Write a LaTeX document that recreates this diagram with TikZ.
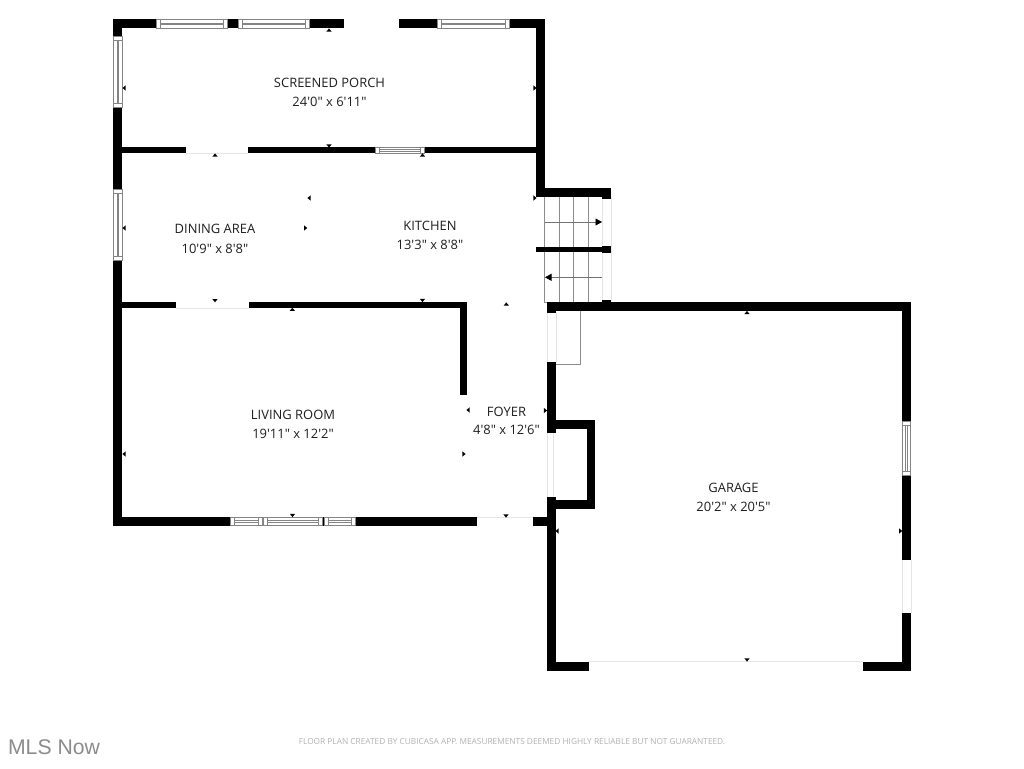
\documentclass[tikz,border=0pt]{standalone}
\usepackage{fontspec}
\newfontfamily\roomfont{Open Sans}
\newfontfamily\logofont{Liberation Sans}
\usetikzlibrary{arrows.meta}
\tikzset{
  wall/.style={fill=black,draw=none},
  faint/.style={draw=black!10,line width=0.7pt},
  wline/.style={draw=black!48,line width=0.75pt},
  stairline/.style={draw=black!45,line width=1pt},
  roomlabel/.style={font=\roomfont\fontsize{12.95}{15}\selectfont,text=black!88,inner sep=0pt,anchor=center},
  tick/.style={fill=black,draw=none},
  stairarrow/.style={draw=black!55,line width=0.7pt,-{Triangle[length=6.5pt,width=7pt,fill=black,color=black]}}
}
% horizontal window: x1 x2 y1 y2
\newcommand{\hwin}[4]{%
  \fill[white] (#1,#3) rectangle (#2,#4);
  \draw[wline] (#1,#3) rectangle (#2,#4);
  \draw[wline] ({#1+4},#3) -- ({#1+4},#4) ({#2-4},#3) -- ({#2-4},#4);
  \draw[wline] ({#1+4},{(#3+#4)/2-0.9}) -- ({#2-4},{(#3+#4)/2-0.9}) ({#1+4},{(#3+#4)/2+0.9}) -- ({#2-4},{(#3+#4)/2+0.9});
}
% vertical window: y1 y2 x1 x2
\newcommand{\vwin}[4]{%
  \fill[white] (#3,#1) rectangle (#4,#2);
  \draw[wline] (#3,#1) rectangle (#4,#2);
  \draw[wline] (#3,{#1+4}) -- (#4,{#1+4}) (#3,{#2-4}) -- (#4,{#2-4});
  \draw[wline] ({(#3+#4)/2-0.9},{#1+4}) -- ({(#3+#4)/2-0.9},{#2-4}) ({(#3+#4)/2+0.9},{#1+4}) -- ({(#3+#4)/2+0.9},{#2-4});
}
\newcommand{\tU}[2]{\fill[tick] ({#1-2.6},{#2+1.6}) -- ({#1+2.6},{#2+1.6}) -- (#1,{#2-1.6}) -- cycle;}
\newcommand{\tD}[2]{\fill[tick] ({#1-2.6},{#2-1.6}) -- ({#1+2.6},{#2-1.6}) -- (#1,{#2+1.6}) -- cycle;}
\newcommand{\tL}[2]{\fill[tick] ({#1+1.6},{#2-2.6}) -- ({#1+1.6},{#2+2.6}) -- ({#1-1.6},#2) -- cycle;}
\newcommand{\tR}[2]{\fill[tick] ({#1-1.6},{#2-2.6}) -- ({#1-1.6},{#2+2.6}) -- ({#1+1.6},#2) -- cycle;}
\begin{document}
\begin{tikzpicture}[x=1pt,y=-1pt]
\useasboundingbox (0,0) rectangle (1024,768);
\fill[white] (0,0) rectangle (1024,768);
% faint door-opening lines
\draw[faint] (344,28) -- (399,28);
\draw[faint] (186,153) -- (248,153);
\draw[faint] (175.5,308) -- (249,308);
\draw[faint] (477,517.5) -- (533,517.5);
\draw[faint] (588,661.5) -- (863,661.5);
\draw[faint] (902,560) -- (902,613) (911,560) -- (911,613);
\draw[faint] (547,312) -- (547,362) (556,312) -- (556,362);
\draw[faint] (547,433) -- (547,497) (553,433) -- (553,497);
\draw[faint] (602.3,197) -- (602.3,302) (611,197) -- (611,302);
% stairs
\draw[stairline] (544.7,197) -- (544.7,302.5) -- (547,302.5);
\foreach \sx in {559.3,573.7,588}{\draw[stairline] (\sx,197) -- (\sx,302);}
\coordinate (upA) at (545,222);
\coordinate (upB) at (602,222);
\coordinate (dnA) at (602,277.3);
\coordinate (dnB) at (545,277.3);
\draw[stairarrow] (upA) -- (upB);
\draw[stairarrow] (dnA) -- (dnB);
% closet
\draw[stairline] (580.7,311) -- (580.7,364.5) -- (556,364.5);
% outer and inner walls
\fill[wall] (113.3,19.3) rectangle (545,28.3);
\fill[white] (344,19) rectangle (399,29);
\fill[wall] (113.3,19.3) rectangle (122.3,526);
\fill[wall] (536,19.3) rectangle (545,197);
\fill[wall] (536,188.3) rectangle (611,197);
\fill[wall] (602,188.3) rectangle (611,198.7);
\fill[wall] (536,246.7) rectangle (611,252.3);
\fill[wall] (602,245.5) rectangle (611,253);
\fill[wall] (122,147) rectangle (186,153.3);
\fill[wall] (248,147) rectangle (536,153.3);
\fill[wall] (122,301.7) rectangle (175.5,308);
\fill[wall] (249,301.7) rectangle (466.5,308);
\fill[wall] (459.8,301.7) rectangle (466.5,394.8);
\fill[wall] (113.3,517.3) rectangle (477.3,526);
\fill[wall] (533,517.3) rectangle (555,526);
% garage
\fill[wall] (546.8,302) rectangle (911,311);
\fill[wall] (546.8,302) rectangle (555.7,312.5);
\fill[wall] (602,300) rectangle (611,303);
\fill[wall] (546.8,361.7) rectangle (555.7,433);
\fill[wall] (546.8,497) rectangle (555.7,670.7);
\fill[wall] (546.8,420) rectangle (595.3,429);
\fill[wall] (586.5,420) rectangle (595.3,508.7);
\fill[wall] (546.8,499.5) rectangle (595.3,508.7);
\fill[wall] (902,302) rectangle (911,560);
\fill[wall] (902,613) rectangle (911,670.7);
\fill[wall] (546.8,661.7) rectangle (588.5,670.7);
\fill[wall] (862.8,661.7) rectangle (911,670.7);
% windows
\hwin{156}{227.3}{19.6}{28.1}
\hwin{238}{309}{19.6}{28.1}
\hwin{437.3}{509}{19.6}{28.1}
\hwin{375.5}{424.8}{147.3}{153.1}
\vwin{36.7}{107}{113.6}{122}
\vwin{189}{260}{113.6}{122}
\vwin{421.7}{475}{902.3}{910.7}
\hwin{230}{262.4}{517.6}{525.8}
\hwin{263.8}{322.6}{517.6}{525.8}
\hwin{324}{355.8}{517.6}{525.8}
% ticks
\tU{329}{30} \tL{124}{88} \tR{535}{88} \tD{329}{146}
\tU{215}{155} \tU{422.5}{155} \tR{535}{198}
\tL{124}{228} \tL{309}{198} \tR{305.7}{228} \tD{215}{300.7} \tU{292.3}{309.3}
\tD{422.5}{300.5} \tU{506.3}{304}
\tL{124}{454} \tD{292.5}{515.5} \tR{464}{454} \tL{468}{410}
\tR{545.5}{410.5} \tD{506}{516}
\tL{557}{531} \tU{747}{312.5} \tR{900.7}{531} \tD{747}{660}
% labels
\node[roomlabel] (n1) at (329.5,82.5) {SCREENED PORCH};
\node[roomlabel] (d1) at (329.5,102) {24'0" x 6'11"};
\node[roomlabel] (n2) at (215,229) {DINING AREA};
\node[roomlabel] (d2) at (215,248.5) {10'9" x 8'8"};
\node[roomlabel] (n3) at (430,226) {KITCHEN};
\node[roomlabel] (d3) at (430,245) {13'3" x 8'8"};
\node[roomlabel] (n4) at (293,414.5) {LIVING ROOM};
\node[roomlabel] (d4) at (293,434) {19'11" x 12'2"};
\node[roomlabel] (n5) at (506.5,411.5) {FOYER};
\node[roomlabel] (d5) at (506.5,430) {4'8" x 12'6"};
\node[roomlabel] (n6) at (733.5,488) {GARAGE};
\node[roomlabel] (d6) at (733.5,507) {20'2" x 20'5"};
\node[inner sep=0pt,text=black!30,font=\roomfont\fontsize{8.3}{10}\selectfont] (foot) at (512,742) {FLOOR PLAN CREATED BY CUBICASA APP. MEASUREMENTS DEEMED HIGHLY RELIABLE BUT NOT GUARANTEED.};
\node[inner sep=0pt,text=black!45,font=\logofont\fontsize{21.2}{24}\selectfont] (logo) at (54,747) {MLS Now};
\end{tikzpicture}
\end{document}
